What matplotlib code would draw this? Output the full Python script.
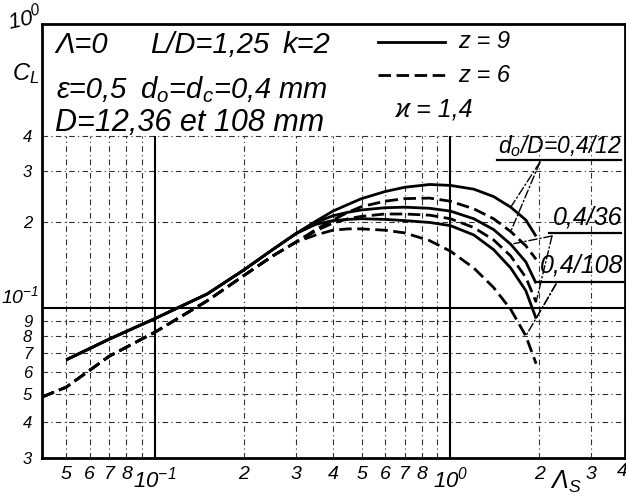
import matplotlib
matplotlib.use('Agg')
import matplotlib.pyplot as plt
from matplotlib import font_manager as fm
from matplotlib.lines import Line2D

# ---------------- data ----------------
x_solid = [0.05, 0.07, 0.1, 0.15, 0.2, 0.25, 0.3, 0.35, 0.4, 0.45, 0.5, 0.6, 0.7, 0.85, 1.0, 1.2, 1.4, 1.6, 1.8, 1.95]
x_dashed = [0.0415, 0.05, 0.07, 0.1, 0.15, 0.2, 0.25, 0.3, 0.35, 0.4, 0.45, 0.5, 0.6, 0.7, 0.85, 1.0, 1.2, 1.4, 1.6, 1.8, 1.95]

solid_common = [0.066, 0.078, 0.092, 0.112, 0.136, 0.160, 0.182]
dashed_common = [0.049, 0.053, 0.068, 0.0825, 0.106, 0.130, 0.152, 0.170]

cl_z9_d12 = solid_common + [0.201, 0.218, 0.230, 0.241, 0.255, 0.264, 0.270, 0.268, 0.260, 0.245, 0.225, 0.203, 0.178]
cl_z6_d12 = dashed_common + [0.188, 0.203, 0.216, 0.226, 0.236, 0.241, 0.242, 0.236, 0.222, 0.205, 0.185, 0.165, 0.148]
cl_z9_d36 = solid_common + [0.199, 0.210, 0.216, 0.220, 0.224, 0.225, 0.223, 0.218, 0.205, 0.188, 0.167, 0.145, 0.122]
cl_z6_d36 = dashed_common + [0.186, 0.198, 0.205, 0.209, 0.213, 0.213, 0.211, 0.205, 0.191, 0.173, 0.152, 0.128, 0.105]
cl_z9_d108 = solid_common + [0.196, 0.202, 0.204, 0.205, 0.204, 0.202, 0.199, 0.194, 0.180, 0.160, 0.138, 0.115, 0.092]
cl_z6_d108 = dashed_common + [0.180, 0.187, 0.189, 0.189, 0.187, 0.183, 0.172, 0.158, 0.138, 0.118, 0.099, 0.080, 0.064]

x_tick_vals = [0.05, 0.06, 0.07, 0.08, 0.1, 0.2, 0.3, 0.4, 0.5, 0.6, 0.7, 0.8, 1.0, 2, 3]
x_tick_labels = ['5', '6', '7', '8', r'$10^{-1}$', '2', '3', '4', '5', '6', '7', '8', r'$10^{0}$', '2', '3']
y_tick_vals = [0.03, 0.04, 0.05, 0.06, 0.07, 0.08, 0.09, 0.2, 0.3, 0.4]
y_tick_labels = ['3', '4', '5', '6', '7', '8', '9', '2', '3', '4']
y_decade_val = 0.1
y_decade_label = r'$10^{-1}$'

grid_major_x = [0.1, 1.0]
grid_minor_x = [0.05, 0.06, 0.07, 0.08, 0.09, 0.2, 0.3, 0.4, 0.5, 0.6, 0.7, 0.8, 0.9, 2, 3]
grid_minor_y = [0.04, 0.05, 0.06, 0.07, 0.08, 0.09, 0.2, 0.3, 0.4]

# ---------------- fonts ----------------
names = {f.name for f in fm.fontManager.ttflist}
FONT = 'Liberation Sans' if 'Liberation Sans' in names else 'DejaVu Sans'
plt.rcParams['font.family'] = [FONT, 'DejaVu Sans']
plt.rcParams['font.style'] = 'italic'
plt.rcParams['mathtext.fontset'] = 'custom'
plt.rcParams['mathtext.rm'] = FONT + ':italic'
plt.rcParams['mathtext.it'] = FONT + ':italic'
plt.rcParams['mathtext.sf'] = FONT + ':italic'

W, H = 626, 497
fig = plt.figure(figsize=(W / 100, H / 100), dpi=100)
fig.patch.set_facecolor('white')


def fx(px):
    return px / W


def fy(py):
    return 1 - py / H


ax = fig.add_axes([fx(42), fy(458), fx(625) - fx(42), fy(24) - fy(458)])
ax.set_xscale('log')
ax.set_yscale('log')
ax.set_xlim(0.0414, 3.9)
ax.set_ylim(0.03, 0.98)

# grid
grid_dash = (0, (5, 3, 1, 3))
gcol = '#303030'
ax.vlines(grid_minor_x, 0.03, 0.4, colors=gcol, linewidth=0.8, linestyles=[grid_dash], zorder=1)
ax.hlines(grid_minor_y, 0.0414, 3.9, colors=gcol, linewidth=0.8, linestyles=[grid_dash], zorder=1)
ax.vlines(grid_major_x, 0.03, 0.4, colors='black', linewidth=1.5, zorder=1)
ax.hlines([0.1], 0.0414, 3.9, colors='black', linewidth=1.5, zorder=1)

# curves
lw = 2.0
dash = (0, (4.5, 2.0))
for ys in (cl_z9_d12, cl_z9_d36, cl_z9_d108):
    ax.plot(x_solid, ys, color='black', linewidth=lw, solid_capstyle='butt', zorder=3)
for ys in (cl_z6_d12, cl_z6_d36, cl_z6_d108):
    ax.plot(x_dashed, ys, color='black', linewidth=lw, linestyle=dash, zorder=3)

# ticks
ax.set_xticks(x_tick_vals)
ax.set_xticklabels(x_tick_labels)
ax.set_yticks(y_tick_vals)
ax.set_yticklabels(y_tick_labels)
ax.xaxis.set_minor_locator(matplotlib.ticker.NullLocator())
ax.yaxis.set_minor_locator(matplotlib.ticker.NullLocator())
ax.tick_params(axis='x', length=0, labelsize=14, pad=6)
ax.tick_params(axis='y', length=0, labelsize=12, pad=7)
for lab in ax.get_xticklabels():
    if '10' in lab.get_text():
        lab.set_fontsize(16)
for s in ax.spines.values():
    s.set_linewidth(2)

# decade label on y axis (placed just above its grid line, inside the figure)
ax.annotate(y_decade_label, xy=(0, y_decade_val), xycoords=('axes fraction', 'data'),
            xytext=(-2, 1), textcoords='offset points', ha='right', va='bottom',
            fontsize=14, annotation_clip=False)

# extra tick text beyond limits
fig.text(fx(622), fy(472), '4', fontsize=14, ha='center', va='center')
fig.text(fx(566), fy(482), r'$\Lambda_S$', fontsize=18, ha='center', va='center')
fig.text(fx(25), fy(18), r'$10^{0}$', fontsize=16, ha='center', va='center', rotation=12)
fig.text(fx(26), fy(74), r'$C_L$', fontsize=17, ha='center', va='center')

# header text
hs = 21
fig.text(fx(55), fy(45), 'Λ=0', fontsize=hs, ha='left', va='center')
fig.text(fx(150), fy(45), 'L/D=1,25', fontsize=hs, ha='left', va='center')
fig.text(fx(283), fy(45), 'k=2', fontsize=hs, ha='left', va='center')
fig.text(fx(57), fy(90), 'ε=0,5', fontsize=hs, ha='left', va='center')
fig.text(fx(140), fy(90), r'd$_o$=d$_c$=0,4 mm', fontsize=hs, ha='left', va='center')
fig.text(fx(55), fy(123), 'D=12,36 et 108 mm', fontsize=22, ha='left', va='center')

# legend
fig.add_artist(Line2D([fx(378), fx(445)], [fy(42), fy(42)], color='black', linewidth=lw))
fig.add_artist(Line2D([fx(378), fx(445)], [fy(75), fy(75)], color='black', linewidth=lw, linestyle=dash))
fig.text(fx(458), fy(42), 'z = 9', fontsize=17, ha='left', va='center')
fig.text(fx(458), fy(75), 'z = 6', fontsize=17, ha='left', va='center')
fig.text(fx(395), fy(110), 'ϰ = 1,4', fontsize=18, ha='left', va='center')

# curve-group labels with underline and leaders
lead = (0, (6, 2, 1, 2))
labels = [
    (r'd$_o$/D=0,4/12', 16.5, 498, 146, 497, 621, 160, (540, 162),
     [(x_solid[-3], cl_z9_d12[-3]), (x_dashed[-3], cl_z6_d12[-3])]),
    ('0,4/36', 18, 553, 218, 549, 621, 233, (552, 236),
     [(x_solid[-3], cl_z9_d36[-3]), (x_dashed[-1], cl_z6_d36[-1])]),
    ('0,4/108', 18, 540, 266, 537, 623, 282, (556, 284),
     [(x_solid[-1], cl_z9_d108[-1]), (x_dashed[-2], cl_z6_d108[-2])]),
]
for txt, fs, tx, ty, ux0, ux1, uy, src, targets in labels:
    fig.text(fx(tx), fy(ty), txt, fontsize=fs, ha='left', va='center')
    fig.add_artist(Line2D([fx(ux0), fx(ux1)], [fy(uy), fy(uy)], color='black', linewidth=1.6))
    for (xd, yd) in targets:
        ax.annotate('', xy=(xd, yd), xycoords='data',
                    xytext=(fx(src[0]), fy(src[1])), textcoords='figure fraction',
                    arrowprops=dict(arrowstyle='-', color='black', linewidth=1.0,
                                    linestyle=lead, shrinkA=0, shrinkB=0))

fig.savefig('out.png', dpi=100, facecolor='white')
